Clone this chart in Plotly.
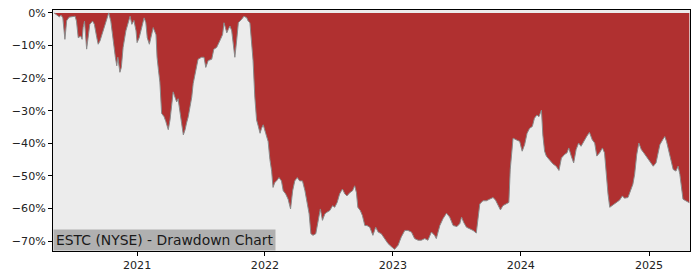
import plotly.graph_objects as go

dates = [
    "2020-05-09", "2020-05-16", "2020-05-24", "2020-05-29", "2020-06-03", "2020-06-09", "2020-06-14", "2020-06-21",
    "2020-07-03", "2020-07-08", "2020-07-12", "2020-07-17", "2020-07-24", "2020-07-28", "2020-07-31", "2020-08-04",
    "2020-08-10", "2020-08-15", "2020-08-19", "2020-08-27", "2020-09-01", "2020-09-08", "2020-09-12", "2020-09-17",
    "2020-09-26", "2020-10-06", "2020-10-12", "2020-10-18", "2020-10-25", "2020-10-31", "2020-11-04", "2020-11-07",
    "2020-11-13", "2020-11-17", "2020-11-22", "2020-11-30", "2020-12-08", "2020-12-12", "2020-12-17", "2020-12-23",
    "2020-12-29",
    "2021-01-01", "2021-01-07", "2021-01-14", "2021-01-21", "2021-01-26", "2021-01-30", "2021-02-05", "2021-02-10",
    "2021-02-16", "2021-02-24", "2021-02-27", "2021-03-03", "2021-03-07", "2021-03-12", "2021-03-19", "2021-03-24",
    "2021-03-31", "2021-04-05", "2021-04-10", "2021-04-14", "2021-04-19", "2021-04-24", "2021-04-28", "2021-05-03",
    "2021-05-08", "2021-05-13", "2021-05-18", "2021-05-22", "2021-05-27", "2021-06-01", "2021-06-06", "2021-06-10",
    "2021-06-18", "2021-06-24", "2021-07-04", "2021-07-11", "2021-07-16", "2021-07-23", "2021-08-02", "2021-08-08",
    "2021-08-16", "2021-08-21", "2021-08-27", "2021-09-02", "2021-09-06", "2021-09-10", "2021-09-14", "2021-09-18",
    "2021-09-23", "2021-09-28", "2021-10-02", "2021-10-07", "2021-10-12", "2021-10-17", "2021-10-26", "2021-11-02",
    "2021-11-10", "2021-11-14", "2021-11-19", "2021-11-24", "2021-11-28", "2021-12-03", "2021-12-08", "2021-12-13",
    "2021-12-18", "2021-12-22", "2021-12-27",
    "2022-01-03", "2022-01-10", "2022-01-15", "2022-01-20", "2022-01-24", "2022-01-29", "2022-02-03", "2022-02-10",
    "2022-02-17", "2022-02-22", "2022-03-01", "2022-03-08", "2022-03-15", "2022-03-21", "2022-03-27", "2022-04-03",
    "2022-04-10", "2022-04-18", "2022-04-25", "2022-05-01", "2022-05-07", "2022-05-12", "2022-05-18", "2022-05-26",
    "2022-06-02", "2022-06-08", "2022-06-14", "2022-06-21", "2022-06-27", "2022-07-05", "2022-07-13", "2022-07-19",
    "2022-07-26", "2022-08-02", "2022-08-10", "2022-08-17", "2022-08-23", "2022-08-31", "2022-09-08", "2022-09-14",
    "2022-09-19", "2022-09-23", "2022-09-30", "2022-10-06", "2022-10-13", "2022-10-19", "2022-10-27", "2022-11-05",
    "2022-11-13", "2022-11-20", "2022-11-29", "2022-12-09", "2022-12-18", "2022-12-28",
    "2023-01-06", "2023-01-16", "2023-01-25", "2023-02-04", "2023-02-13", "2023-02-23", "2023-03-04", "2023-03-14",
    "2023-03-23", "2023-04-02", "2023-04-11", "2023-04-21", "2023-04-30", "2023-05-05", "2023-05-15", "2023-05-24",
    "2023-06-03", "2023-06-12", "2023-06-22", "2023-07-03", "2023-07-11", "2023-07-16", "2023-07-22", "2023-07-30",
    "2023-08-08", "2023-08-18", "2023-08-27", "2023-09-01", "2023-09-06", "2023-09-15", "2023-09-25", "2023-10-04",
    "2023-10-14", "2023-10-21", "2023-10-28", "2023-11-04", "2023-11-11", "2023-11-21", "2023-11-28", "2023-12-02",
    "2023-12-10", "2023-12-19", "2023-12-29",
    "2024-01-05", "2024-01-12", "2024-01-19", "2024-01-26", "2024-02-03", "2024-02-09", "2024-02-16", "2024-02-22",
    "2024-02-29", "2024-03-04", "2024-03-09", "2024-03-14", "2024-03-24", "2024-04-02", "2024-04-11", "2024-04-19",
    "2024-04-26", "2024-05-05", "2024-05-12", "2024-05-17", "2024-05-24", "2024-05-31", "2024-06-07", "2024-06-14",
    "2024-06-21", "2024-07-01", "2024-07-07", "2024-07-15", "2024-07-23", "2024-07-30", "2024-08-05", "2024-08-13",
    "2024-08-21", "2024-08-27", "2024-09-01", "2024-09-06", "2024-09-11", "2024-09-20", "2024-10-01", "2024-10-09",
    "2024-10-17", "2024-10-23", "2024-11-02", "2024-11-09", "2024-11-16", "2024-11-21", "2024-11-27", "2024-12-03",
    "2024-12-10", "2024-12-17", "2024-12-24",
    "2025-01-03", "2025-01-13", "2025-01-21", "2025-01-27", "2025-02-01", "2025-02-09", "2025-02-15", "2025-02-20",
    "2025-02-25", "2025-03-01", "2025-03-06", "2025-03-11", "2025-03-19", "2025-03-25", "2025-03-30", "2025-04-04",
    "2025-04-08", "2025-04-16", "2025-04-23", "2025-04-26",
]

drawdown_pct = [
    0.0, -0.5, -1.2, -0.7, -1.5, -8.1, -2.4, -1.3,
    -1.0, -1.0, -2.5, -7.6, -7.1, -8.1, -4.5, -2.5,
    -11.1, -7.6, -3.5, -2.5, -3.5, -7.6, -9.6, -8.6,
    -5.5, -1.5, 0.0, -2.5, -9.6, -13.6, -16.2, -13.6,
    -18.2, -16.7, -10.6, -5.5, -2.5, -1.0, -3.5, -2.3,
    -5.5,
    -9.1, -7.6, -4.5, -1.5, -3.0, -7.6, -9.6, -7.6,
    -4.5, -6.7, -13.6, -17.6, -21.2, -30.8, -31.8, -33.3,
    -35.8, -32.8, -28.8, -24.2, -25.8, -27.3, -26.3, -30.8,
    -33.8, -37.4, -35.8, -33.8, -31.8, -28.8, -25.8, -21.7,
    -17.7, -14.2, -13.6, -13.6, -16.7, -14.6, -14.2, -11.1,
    -10.6, -9.6, -8.1, -6.6, -3.0, -4.5, -6.1, -5.1,
    -4.0, -5.5, -9.6, -13.6, -8.6, -3.0, -2.0, -1.0,
    -1.5, -2.5, -3.0, -10.6, -14.6, -25.8, -32.8, -34.8,
    -36.9, -35.4, -34.3,
    -36.9, -39.4, -44.9, -48.5, -53.5, -52.0, -51.5, -50.5,
    -51.5, -54.5, -55.5, -57.1, -60.1, -54.5, -51.5, -50.5,
    -51.5, -51.5, -54.5, -57.6, -61.6, -67.7, -68.2, -67.7,
    -63.6, -60.1, -63.6, -61.6, -61.1, -60.6, -59.1, -59.6,
    -58.1, -55.5, -54.0, -55.5, -56.1, -55.1, -54.5, -53.0,
    -55.1, -59.6, -60.6, -62.1, -65.2, -65.2, -65.7, -68.2,
    -65.7, -67.2, -67.7, -69.2, -70.7, -71.7,
    -72.5, -71.2, -68.7, -66.7, -66.7, -67.2, -69.2, -69.7,
    -69.7, -69.2, -69.7, -67.2, -68.2, -69.2, -65.2, -63.1,
    -61.4, -62.6, -65.2, -65.5, -64.6, -62.6, -64.2, -65.7,
    -66.2, -66.7, -67.5, -62.6, -58.6, -57.6, -57.6, -57.1,
    -56.6, -57.4, -59.1, -60.4, -59.1, -58.6, -58.1, -47.9,
    -38.4, -38.9, -39.4,
    -42.4, -40.4, -36.9, -35.4, -34.8, -32.3, -31.3, -31.8,
    -29.8, -37.4, -42.4, -43.9, -45.2, -46.3, -47.0, -48.3,
    -44.5, -43.4, -42.9, -41.4, -43.9, -46.0, -41.9, -39.9,
    -40.9, -38.9, -37.9, -36.6, -38.9, -39.9, -43.9, -42.9,
    -41.4, -42.9, -49.5, -55.5, -59.6, -58.8, -58.1, -57.4,
    -56.1, -56.8, -56.6, -54.5, -52.5, -49.5, -43.4, -39.9,
    -41.9, -42.9, -43.9,
    -45.5, -47.0, -46.0, -43.4, -40.4, -38.9, -37.9, -39.4,
    -41.9, -43.9, -45.5, -48.0, -48.5, -47.0, -49.5, -53.5,
    -57.1, -57.6, -58.1, -58.2,
]

y_tick_vals = [0, -10, -20, -30, -40, -50, -60, -70]
y_tick_text = ["0%", "\u221210%", "\u221220%", "\u221230%", "\u221240%", "\u221250%", "\u221260%", "\u221270%"]
x_tick_vals = ["2021-01-01", "2022-01-01", "2023-01-01", "2024-01-01", "2025-01-01"]
x_tick_text = ["2021", "2022", "2023", "2024", "2025"]
title_text = "ESTC (NYSE) - Drawdown Chart"

fig = go.Figure()
fig.add_trace(go.Scatter(
    x=dates, y=drawdown_pct, mode="lines", fill="tozeroy",
    fillcolor="#b03030", line=dict(color="#8a8a8a", width=1),
    hoverinfo="skip", showlegend=False,
))

fig.update_layout(
    width=700, height=280,
    margin=dict(l=53, r=10, t=7, b=29),
    paper_bgcolor="white", plot_bgcolor="#ececec",
    font=dict(family="DejaVu Sans", size=11, color="#222222"),
    xaxis=dict(
        range=["2020-05-06", "2025-04-28"], type="date",
        tickvals=x_tick_vals, ticktext=x_tick_text,
        showgrid=False, zeroline=False,
        showline=True, linecolor="black", linewidth=1, mirror=True,
        ticks="outside", ticklen=4, tickcolor="black",
        tickfont=dict(size=11.1, color="#222222"),
    ),
    yaxis=dict(
        range=[-73.0, 0.9],
        tickvals=y_tick_vals, ticktext=y_tick_text,
        showgrid=False, zeroline=False,
        showline=True, linecolor="black", linewidth=1, mirror=True,
        ticks="outside", ticklen=4, tickcolor="black",
        tickfont=dict(size=11.1, color="#222222"),
    ),
    annotations=[dict(
        text=title_text, xref="paper", yref="paper", x=0, y=0,
        xanchor="left", yanchor="bottom", showarrow=False,
        bgcolor="#b0b0b0", borderpad=2,
        font=dict(family="DejaVu Sans", size=13.9, color="#1a1a1a"),
    )],
)

fig.write_html("out.html")
